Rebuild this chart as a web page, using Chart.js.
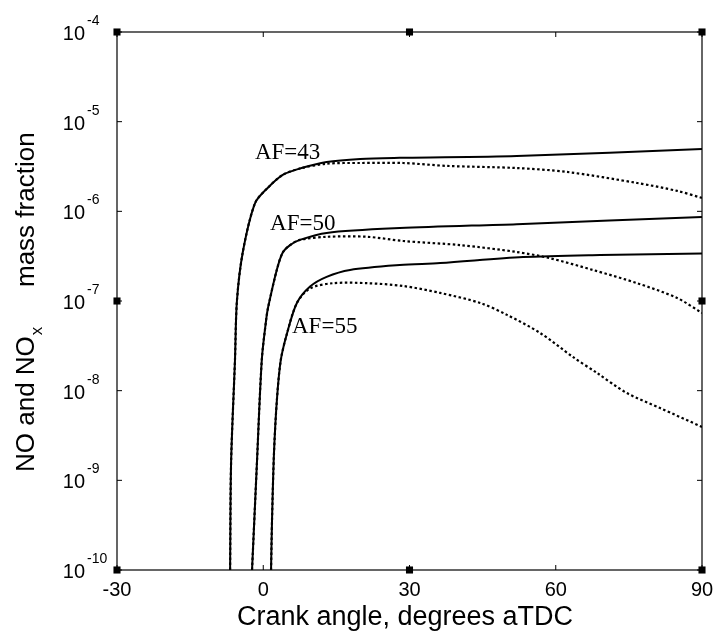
<!DOCTYPE html>
<html>
<head>
<meta charset="utf-8">
<script src="https://cdn.jsdelivr.net/npm/chart.js@4.4.1/dist/chart.umd.min.js"></script>
<style>
  html, body { margin: 0; padding: 0; background: #fff; }
</style>
</head>
<body>
<canvas id="chart" width="715" height="635"></canvas>
<script>
// x ticks (crank angle, degrees aTDC) and y decades
const xTicks = [-30, 0, 30, 60, 90];
const yTicks = [1e-10, 1e-9, 1e-8, 1e-7, 1e-6, 1e-5, 1e-4];

// AF=43
const af43SolidAngle = [-6.8, -6.6, -5.8, -5.4, -4.2, -1.7, 0.8, 4.0, 7.5, 13, 19.9, 28, 52, 90];
const af43SolidValue = [1.0e-10, 1.55e-9, 2.2e-8, 1.0e-7, 3.5e-7, 1.23e-6, 1.8e-6, 2.55e-6, 3.0e-6, 3.55e-6, 3.84e-6, 3.95e-6, 4.15e-6, 4.95e-6];
const af43DotAngle = [-6.8, -6.6, -5.8, -5.4, -4.2, -1.7, 0.8, 4.0, 7.5, 13, 19.9, 28.7, 37.7, 52, 62.3, 76.7, 84.9, 90];
const af43DotValue = [1.0e-10, 1.55e-9, 2.2e-8, 1.0e-7, 3.5e-7, 1.23e-6, 1.8e-6, 2.55e-6, 3.0e-6, 3.4e-6, 3.46e-6, 3.46e-6, 3.21e-6, 3.04e-6, 2.75e-6, 2.07e-6, 1.69e-6, 1.41e-6];

// AF=50
const af50SolidAngle = [-2.3, -1.3, -0.3, 0.6, 1.0, 2.8, 4.0, 5.5, 7.5, 13, 28, 52, 90];
const af50SolidValue = [1.0e-10, 1.55e-9, 2.2e-8, 6.2e-8, 8.5e-8, 2.24e-7, 3.47e-7, 4.2e-7, 4.8e-7, 5.75e-7, 6.5e-7, 7.2e-7, 8.65e-7];
const af50DotAngle = [-2.3, -1.3, -0.3, 0.6, 1.0, 2.8, 4.0, 5.5, 7.5, 13, 21.3, 28.7, 40.4, 52, 58.8, 67.6, 76.7, 84.9, 90];
const af50DotValue = [1.0e-10, 1.55e-9, 2.2e-8, 6.2e-8, 8.5e-8, 2.24e-7, 3.47e-7, 4.2e-7, 4.8e-7, 5.2e-7, 5.2e-7, 4.67e-7, 4.2e-7, 3.52e-7, 3.0e-7, 2.22e-7, 1.58e-7, 1.08e-7, 7.35e-8];

// AF=55
const af55SolidAngle = [1.6, 1.8, 2.2, 2.8, 3.6, 4.9, 6.9, 9.6, 13, 17.8, 28, 36.3, 53.3, 69.1, 90];
const af55SolidValue = [1.0e-10, 3.6e-10, 2.0e-9, 7.9e-9, 2.2e-8, 4.4e-8, 9.5e-8, 1.45e-7, 1.86e-7, 2.22e-7, 2.52e-7, 2.65e-7, 3.09e-7, 3.26e-7, 3.39e-7];
const af55DotAngle = [1.6, 1.8, 2.2, 2.8, 3.6, 4.9, 6.9, 9.6, 14.3, 21.3, 28.7, 36.3, 44.5, 50, 56.8, 63.5, 68.5, 74.6, 81.4, 90];
const af55DotValue = [1.0e-10, 3.6e-10, 2.0e-9, 7.9e-9, 2.2e-8, 4.4e-8, 9.5e-8, 1.38e-7, 1.58e-7, 1.58e-7, 1.47e-7, 1.23e-7, 9.5e-8, 7.0e-8, 4.4e-8, 2.38e-8, 1.57e-8, 9.4e-9, 6.4e-9, 3.94e-9];

// curve labels, anchored in data coordinates (left edge, baseline)
const curveLabels = ['AF=43', 'AF=50', 'AF=55'];
const labelAngle = [-1.7, 1.4, 5.9];
const labelValue = [3.84e-6, 6.2e-7, 4.4e-8];

// square markers on the frame
const markAngle = [-30, 30, 90, -30, 90, -30, 30, 90];
const markValue = [1e-4, 1e-4, 1e-4, 1e-7, 1e-7, 1e-10, 1e-10, 1e-10];

const pts = (xs, ys) => xs.map((v, i) => ({ x: v, y: ys[i] }));

function curve(xs, ys, dotted) {
    return {
        data: pts(xs, ys),
        borderColor: '#000',
        borderWidth: dotted ? 2.2 : 2,
        borderDash: dotted ? [2.5, 2.5] : [],
        pointRadius: 0,
        fill: false,
        tension: 0.3
    };
}

const SANS = '"Liberation Sans", Arial, sans-serif';
const SERIF = '"Liberation Serif", "Times New Roman", serif';

const decor = {
    id: 'decor',
    afterDraw(chart) {
        const { ctx, chartArea: a, scales: { x, y } } = chart;
        ctx.save();
        ctx.strokeStyle = '#000';
        ctx.lineWidth = 1.2;
        ctx.strokeRect(a.left, a.top, a.right - a.left, a.bottom - a.top);

        // inward tick marks on all four sides
        ctx.lineWidth = 1;
        ctx.beginPath();
        xTicks.forEach(v => {
            const px = x.getPixelForValue(v);
            ctx.moveTo(px, a.bottom); ctx.lineTo(px, a.bottom - 5);
            ctx.moveTo(px, a.top); ctx.lineTo(px, a.top + 5);
        });
        yTicks.forEach(v => {
            const py = y.getPixelForValue(v);
            ctx.moveTo(a.left, py); ctx.lineTo(a.left + 5, py);
            ctx.moveTo(a.right, py); ctx.lineTo(a.right - 5, py);
        });
        ctx.stroke();

        // y tick labels 10^n
        ctx.fillStyle = '#000';
        yTicks.forEach(v => {
            const py = y.getPixelForValue(v);
            const exp = Math.round(Math.log10(v));
            ctx.font = '20px ' + SANS;
            ctx.textAlign = 'right';
            ctx.textBaseline = 'alphabetic';
            ctx.fillText('10', a.left - 32, py + 8);
            ctx.font = '14px ' + SANS;
            ctx.textAlign = 'left';
            ctx.fillText(String(exp), a.left - 30, py - 7);
        });

        // x title
        ctx.font = '27px ' + SANS;
        ctx.textAlign = 'center';
        ctx.fillText('Crank angle, degrees aTDC', 405, 625);

        // y title with subscript x
        ctx.save();
        ctx.translate(34, 472);
        ctx.rotate(-Math.PI / 2);
        ctx.textAlign = 'left';
        ctx.font = '26px ' + SANS;
        ctx.fillText('NO and NO', 0, 0);
        const w = ctx.measureText('NO and NO').width;
        ctx.font = '17px ' + SANS;
        ctx.fillText('x', w + 1, 8);
        ctx.font = '26px ' + SANS;
        ctx.fillText('mass fraction', 185, 0);
        ctx.restore();

        // curve labels
        ctx.font = '23px ' + SERIF;
        ctx.textAlign = 'left';
        curveLabels.forEach((t, i) => {
            ctx.fillText(t, x.getPixelForValue(labelAngle[i]), y.getPixelForValue(labelValue[i]));
        });
        ctx.restore();
    }
};

new Chart(document.getElementById('chart'), {
    type: 'line',
    data: {
        datasets: [
            curve(af43SolidAngle, af43SolidValue, false),
            curve(af43DotAngle, af43DotValue, true),
            curve(af50SolidAngle, af50SolidValue, false),
            curve(af50DotAngle, af50DotValue, true),
            curve(af55SolidAngle, af55SolidValue, false),
            curve(af55DotAngle, af55DotValue, true),
            {
                type: 'scatter',
                data: pts(markAngle, markValue),
                pointStyle: 'rect',
                pointRadius: 5,
                backgroundColor: '#000',
                borderColor: '#000',
                borderWidth: 0,
                showLine: false,
                clip: false
            }
        ]
    },
    options: {
        responsive: false,
        animation: false,
        layout: { padding: { top: 32, right: 13, left: 0, bottom: 0 } },
        plugins: { legend: { display: false }, tooltip: { enabled: false } },
        scales: {
            x: {
                type: 'linear',
                min: -30,
                max: 90,
                ticks: { stepSize: 30, color: '#000', font: { family: SANS, size: 20 }, padding: 8, maxRotation: 0, autoSkip: false },
                grid: { display: false, drawTicks: false },
                border: { display: false },
                afterFit: s => { s.height = 65; s.paddingLeft = 0; s.paddingRight = 0; }
            },
            y: {
                type: 'logarithmic',
                min: 1e-10,
                max: 1e-4,
                ticks: { display: false },
                grid: { display: false, drawTicks: false },
                border: { display: false },
                afterBuildTicks: s => { s.ticks = yTicks.map(v => ({ value: v })); },
                afterFit: s => { s.width = 117; }
            }
        }
    },
    plugins: [decor]
});
</script>
</body>
</html>
